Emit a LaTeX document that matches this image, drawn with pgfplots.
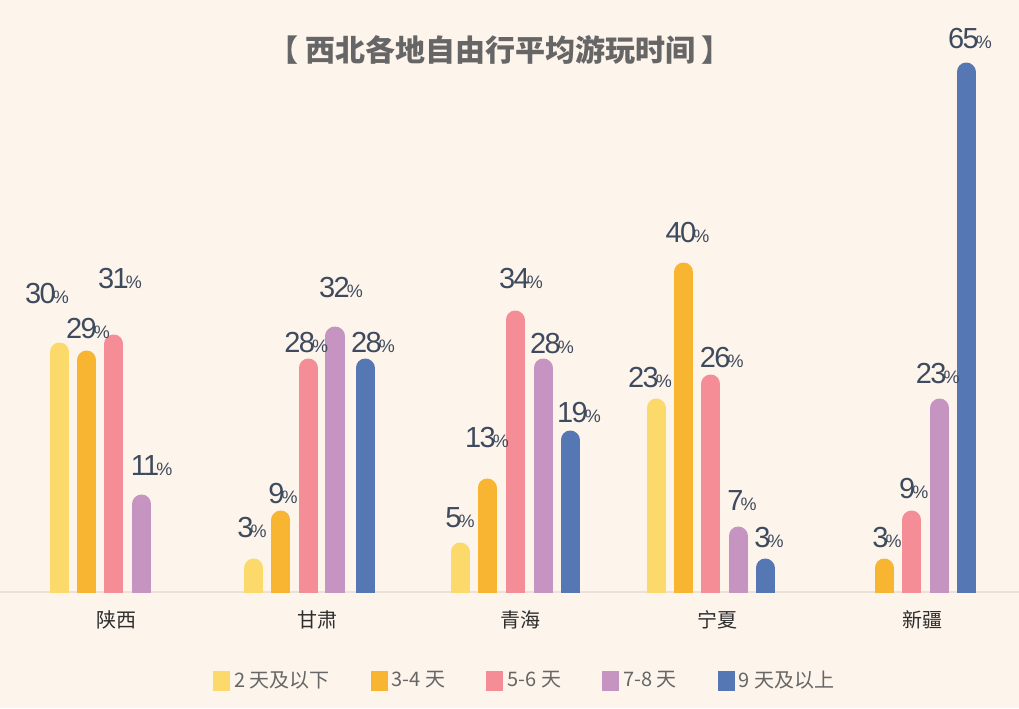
\documentclass[border=0pt]{standalone}
\usepackage{pgfplots}
\pgfplotsset{compat=1.18}
\usepackage{pgfplotstable}
\usepackage{fontspec}
\setmainfont{Noto Sans CJK SC}
\newfontfamily\cjk{Noto Sans CJK SC}
\newfontfamily\numfont[LetterSpace=-6]{Liberation Sans}
\definecolor{bg}{HTML}{FDF4EB}
\definecolor{c1}{HTML}{FCD96B}
\definecolor{c2}{HTML}{F8B532}
\definecolor{c3}{HTML}{F48D95}
\definecolor{c4}{HTML}{C594C0}
\definecolor{c5}{HTML}{5578B4}
\definecolor{lab}{HTML}{3E4A5D}
\definecolor{ttl}{HTML}{666666}
\definecolor{cat}{HTML}{2E2E2E}
\definecolor{bline}{HTML}{EAE2D9}

% x = bar centre (px), y = value (%), dx/dy = label offset (px)
\pgfplotstableread{
x y dx dy
59.5 30 -12.5 49
253.7 3 -1.7 31
460 5 0 25
656 23 -6 21
}\sA
\pgfplotstableread{
x y dx dy
86.7 29 1.3 22
281 9 2 17
487 13 0 41
683.5 40 4 30
884 3 3 21
}\sB
\pgfplotstableread{
x y dx dy
114 31 6 56
308.3 28 -2 16
515 34 6 32
710.7 26 11 17
911.7 9 2 22
}\sC
\pgfplotstableread{
x y dx dy
141.7 11 10 29
335 32 6 39
543 28 9 15
738 7 4 26
939.7 23 -2 25
}\sD
\pgfplotstableread{
x y dx dy
365 28 8 16
570 19 9 18
765 3 4 21
966 65 4 24
}\sE

\begin{document}
\begin{tikzpicture}
\fill[bg] (0,-58pt) rectangle (509.5pt,296pt);
\begin{axis}[
  at={(0,0)}, anchor=south west,
  scale only axis, width=509.5pt, height=296pt,
  xmin=0, xmax=1019, ymin=0, ymax=74,
  enlargelimits=false,
  axis y line=none,
  axis x line*=bottom,
  x axis line style={draw=bline, line width=0.8pt},
  major tick length=0pt,
  ytick=\empty,
  xtick={117,318,520,717,922},
  xticklabels={陕西,甘肃,青海,宁夏,新疆},
  xticklabel style={font=\cjk\fontsize{10}{12}\selectfont, text=cat, anchor=center, yshift=-14pt},
  title={【 西北各地自由行平均游玩时间 】},
  title style={at={(0.4907,0.895)}, anchor=center, font=\cjk\bfseries\fontsize{15}{17}\selectfont, text=ttl},
  ycomb,
  every axis plot/.append style={line width=9.5pt, line cap=round},
  nodes near coords={\numfont\fontsize{14.5}{14.5}\selectfont\pgfmathprintnumber[assume math mode=true]{\pgfplotspointmeta}\kern-1.4pt{\fontsize{9}{9}\selectfont\%}},
  visualization depends on={\thisrow{dx} \as \dx},
  visualization depends on={\thisrow{dy} \as \dy},
  every node near coord/.append style={anchor=base, inner sep=0pt, text=lab, xshift={\dx*0.5pt}, yshift={\dy*0.5pt}},
  legend columns=5,
  legend image code/.code={\path[fill, draw=none, line width=0pt] (-2.5pt,-5pt) rectangle (6pt,5pt);},
  legend style={draw=none, fill=none, at={(0.516,-0.150)}, anchor=center,
    font=\cjk\fontsize{10}{12}\selectfont, text=ttl,
    /tikz/every even column/.append style={column sep=18.5pt}},
]
\addplot[color=c1, mark=none] table[x=x, y=y] {\sA};
\addlegendentry{2 天及以下}
\addplot[color=c2, mark=none] table[x=x, y=y] {\sB};
\addlegendentry{3-4 天}
\addplot[color=c3, mark=none] table[x=x, y=y] {\sC};
\addlegendentry{5-6 天}
\addplot[color=c4, mark=none] table[x=x, y=y] {\sD};
\addlegendentry{7-8 天}
\addplot[color=c5, mark=none] table[x=x, y=y] {\sE};
\addlegendentry{9 天及以上}
\end{axis}
\pgfresetboundingbox
\path[use as bounding box] (0,-58pt) rectangle (509.5pt,296pt);
\end{tikzpicture}
\end{document}
